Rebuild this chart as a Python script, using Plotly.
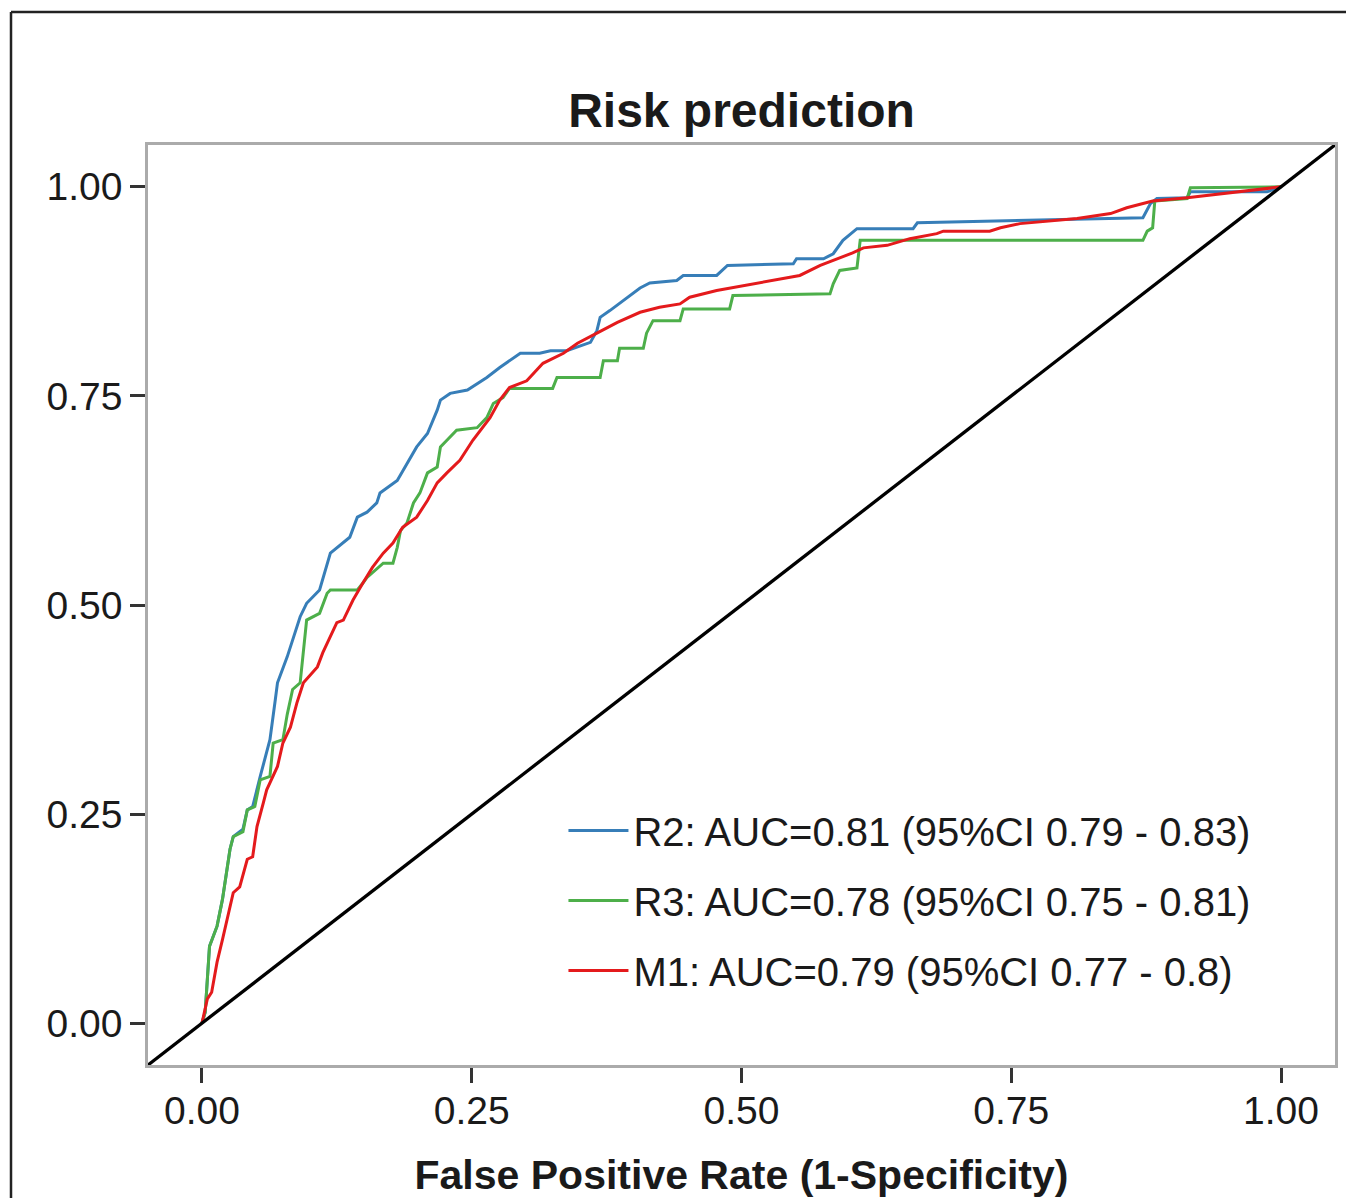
import plotly.graph_objects as go

# ---------------- data ----------------
series_names = ["R2: AUC=0.81 (95%CI 0.79 - 0.83)",
                "R3: AUC=0.78 (95%CI 0.75 - 0.81)",
                "M1: AUC=0.79 (95%CI 0.77 - 0.8)"]

r2_fpr = [0, 0.003, 0.007, 0.014, 0.019, 0.026, 0.029, 0.038, 0.042, 0.047, 0.054, 0.063,
          0.068, 0.070, 0.079, 0.091, 0.097, 0.109, 0.119, 0.125, 0.137, 0.144, 0.153, 0.162,
          0.165, 0.181, 0.190, 0.199, 0.209, 0.218, 0.221, 0.230, 0.246, 0.255, 0.264, 0.276,
          0.285, 0.295, 0.313, 0.323, 0.338, 0.360, 0.366, 0.369, 0.378, 0.394, 0.406, 0.415,
          0.440, 0.446, 0.477, 0.487, 0.548, 0.551, 0.576, 0.585, 0.594, 0.607, 0.659, 0.663,
          0.872, 0.879, 0.885, 0.913, 0.916, 0.987, 1.0]
r2_tpr = [0, 0.013, 0.092, 0.116, 0.148, 0.208, 0.223, 0.232, 0.255, 0.259, 0.295, 0.339,
          0.387, 0.407, 0.438, 0.486, 0.502, 0.518, 0.562, 0.568, 0.581, 0.605, 0.611, 0.622,
          0.634, 0.649, 0.669, 0.689, 0.705, 0.733, 0.745, 0.753, 0.757, 0.765, 0.772, 0.784,
          0.792, 0.801, 0.801, 0.804, 0.804, 0.814, 0.828, 0.844, 0.852, 0.868, 0.879, 0.885,
          0.888, 0.894, 0.894, 0.906, 0.908, 0.914, 0.914, 0.920, 0.936, 0.950, 0.950, 0.957,
          0.963, 0.980, 0.986, 0.987, 0.994, 0.994, 1.0]

r3_fpr = [0, 0.003, 0.007, 0.014, 0.019, 0.026, 0.029, 0.038, 0.042, 0.049, 0.054, 0.063,
          0.066, 0.075, 0.079, 0.084, 0.091, 0.094, 0.097, 0.109, 0.116, 0.119, 0.144, 0.149,
          0.153, 0.168, 0.177, 0.181, 0.184, 0.190, 0.196, 0.202, 0.209, 0.218, 0.221, 0.227,
          0.236, 0.255, 0.264, 0.270, 0.279, 0.285, 0.325, 0.329, 0.369, 0.372, 0.385, 0.387,
          0.409, 0.412, 0.418, 0.443, 0.446, 0.489, 0.492, 0.582, 0.585, 0.591, 0.607, 0.610,
          0.872, 0.876, 0.881, 0.883, 0.913, 0.916, 1.0]
r3_tpr = [0, 0.013, 0.092, 0.116, 0.148, 0.208, 0.223, 0.229, 0.255, 0.259, 0.291, 0.295,
          0.335, 0.339, 0.369, 0.399, 0.407, 0.446, 0.482, 0.490, 0.514, 0.518, 0.518, 0.526,
          0.533, 0.550, 0.550, 0.569, 0.589, 0.598, 0.622, 0.634, 0.658, 0.665, 0.689, 0.697,
          0.709, 0.712, 0.724, 0.741, 0.748, 0.759, 0.759, 0.772, 0.772, 0.792, 0.792, 0.807,
          0.807, 0.825, 0.840, 0.840, 0.854, 0.854, 0.870, 0.872, 0.884, 0.900, 0.903, 0.936,
          0.936, 0.947, 0.951, 0.983, 0.986, 0.999, 1.0]

m1_fpr = [0, 0.005, 0.009, 0.014, 0.019, 0.029, 0.035, 0.042, 0.047, 0.051, 0.057, 0.060,
          0.070, 0.075, 0.082, 0.088, 0.094, 0.107, 0.112, 0.119, 0.125, 0.131, 0.140, 0.149,
          0.158, 0.168, 0.177, 0.186, 0.199, 0.209, 0.218, 0.227, 0.239, 0.251, 0.258, 0.267,
          0.276, 0.285, 0.301, 0.316, 0.335, 0.348, 0.366, 0.385, 0.406, 0.424, 0.443, 0.452,
          0.477, 0.511, 0.538, 0.554, 0.573, 0.591, 0.603, 0.613, 0.635, 0.656, 0.681, 0.687,
          0.730, 0.740, 0.758, 0.811, 0.842, 0.857, 0.872, 0.881, 0.913, 0.953, 1.0]
m1_tpr = [0, 0.029, 0.037, 0.073, 0.100, 0.156, 0.163, 0.196, 0.199, 0.235, 0.264, 0.279,
          0.307, 0.335, 0.354, 0.383, 0.407, 0.426, 0.443, 0.462, 0.479, 0.482, 0.506, 0.526,
          0.545, 0.562, 0.574, 0.593, 0.605, 0.625, 0.646, 0.658, 0.673, 0.697, 0.709, 0.724,
          0.745, 0.760, 0.768, 0.789, 0.801, 0.813, 0.825, 0.838, 0.850, 0.856, 0.860, 0.868,
          0.876, 0.884, 0.890, 0.894, 0.906, 0.915, 0.921, 0.927, 0.930, 0.938, 0.944, 0.947,
          0.947, 0.951, 0.956, 0.962, 0.968, 0.975, 0.980, 0.983, 0.987, 0.993, 1.0]

diag = [-0.05, 1.05]
tick_vals = [0, 0.25, 0.5, 0.75, 1.0]
tick_text = ["0.00", "0.25", "0.50", "0.75", "1.00"]
colors = ["#377EB8", "#4DAF4A", "#E41A1C"]

# ---------------- figure ----------------
fig = go.Figure()
for i, (xs, ys) in enumerate([(r2_fpr, r2_tpr), (r3_fpr, r3_tpr), (m1_fpr, m1_tpr)]):
    fig.add_trace(go.Scatter(x=xs, y=ys, mode="lines", name=series_names[i],
                             legendgroup=f"g{i}",
                             line=dict(color=colors[i], width=3, shape="linear")))
fig.add_trace(go.Scatter(x=diag, y=diag, mode="lines", showlegend=False,
                         line=dict(color="black", width=3.3), hoverinfo="skip"))

font_family = "Liberation Sans, Arial, Helvetica, sans-serif"
axis_common = dict(range=[-0.05, 1.05], tickvals=tick_vals, ticktext=tick_text,
                   showgrid=False, zeroline=False, showline=True, mirror=True,
                   linecolor="#ababab", linewidth=2.5, ticks="outside", ticklen=15,
                   tickwidth=2.8, tickcolor="#333333", automargin=False,
                   tickfont=dict(family=font_family, size=39, color="#1a1a1a"))

W, H = 1346, 1190
L, T, PW, PH = 140, 137, 1187, 920

fig.update_layout(
    width=W, height=H, autosize=False,
    margin=dict(l=L, r=W - L - PW, t=T, b=H - T - PH),
    plot_bgcolor="white", paper_bgcolor="white",
    font=dict(family=font_family, color="#1a1a1a"),
    title=dict(text="<b>Risk prediction</b>", x=0.5, xref="paper", xanchor="center",
               y=1 - 102 / H, yref="container", yanchor="middle",
               font=dict(family=font_family, size=48, color="#1a1a1a")),
    xaxis=dict(**axis_common, ticklabelstandoff=-6,
               title=dict(text="<b>False Positive Rate (1-Specificity)</b>",
                          font=dict(family=font_family, size=41, color="#1a1a1a"),
                          standoff=32)),
    yaxis=dict(**axis_common),
    legend=dict(x=0.350, y=0.2902, xanchor="left", yanchor="top",
                bgcolor="rgba(0,0,0,0)", borderwidth=0,
                font=dict(family=font_family, size=40, color="#1a1a1a"),
                traceorder="grouped", tracegroupgap=15, itemwidth=60),
    shapes=[dict(type="line", xref="paper", yref="paper",
                 x0=(3 - L) / PW, x1=(3 - L) / PW,
                 y0=(T + PH - 4) / PH, y1=(T + PH - 1210) / PH,
                 line=dict(color="#222222", width=2.5)),
            dict(type="line", xref="paper", yref="paper",
                 x0=(3 - L) / PW, x1=(1370 - L) / PW,
                 y0=(T + PH - 4) / PH, y1=(T + PH - 4) / PH,
                 line=dict(color="#222222", width=2.5))],
    showlegend=True,
)

fig.write_html("out.html")
